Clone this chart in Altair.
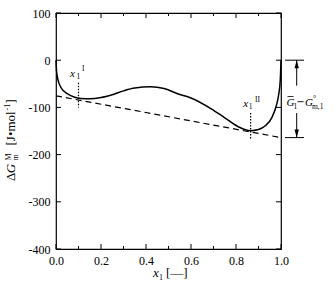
import altair as alt
import pandas as pd

FONT = "Liberation Serif"

# ---- data ----
curve_x = [0.0, 0.002, 0.006, 0.012, 0.025, 0.05, 0.08, 0.11, 0.15, 0.2, 0.25, 0.3, 0.35,
           0.42, 0.48, 0.54, 0.6, 0.69, 0.75, 0.81, 0.865, 0.9, 0.93, 0.96, 0.98, 0.99, 0.997, 1.0]
curve_y = [0, -20, -35, -47, -60, -71, -78, -81, -81.5, -79, -73, -65, -59,
           -56.5, -60, -71, -80, -103, -122, -141, -149.5, -147, -139, -121, -95, -72, -40, 0]

tangent_x = [0.0, 1.0]
tangent_y = [-75.5, -164.0]

x1_I = 0.1
x1_I_range = [-48, -100]
x1_II = 0.865
x1_II_range = [-112, -166]

x_major = [0.0, 0.2, 0.4, 0.6, 0.8, 1.0]
x_minor = [0.1, 0.3, 0.5, 0.7, 0.9]
y_major = [100, 0, -100, -200, -300, -400]

arrow_top = 0
arrow_bottom = -164
arrow_gap = [-54, -112]

xsc = alt.Scale(domain=[0, 1], nice=False, zero=False)
ysc = alt.Scale(domain=[-400, 100], nice=False, zero=False)

W, H = 225, 236
one = pd.DataFrame({"a": [0]})

xaxis = alt.Axis(values=x_major, format=".1f", title=None, domain=False, ticks=False,
                 grid=False, labelFont=FONT, labelFontSize=12, labelColor="black",
                 labelPadding=6, tickSize=0, labelFlush=False, labelOverlap=False)
yaxis = alt.Axis(values=y_major, labelExpr="'' + datum.value", title=None, domain=False,
                 ticks=False, grid=False, labelFont=FONT, labelFontSize=12,
                 labelColor="black", labelPadding=6, tickSize=0, labelFlush=False,
                 labelOverlap=False)


def X(f):
    return alt.X(f, scale=xsc, axis=xaxis)


def Y(f):
    return alt.Y(f, scale=ysc, axis=yaxis)


def txt(s, x, y, size=12, style="normal", angle=None, align="left"):
    kw = dict(text=s, font=FONT, fontSize=size, fontStyle=style, align=align,
              baseline="alphabetic", fill="black")
    if angle is not None:
        kw["angle"] = angle
    return alt.Chart(one).mark_text(**kw).encode(x=alt.value(x), y=alt.value(y))


def hrule(x1, x2, y, width=1.0):
    return alt.Chart(one).mark_rule(color="black", strokeWidth=width).encode(
        x=alt.value(x1), x2=alt.value(x2), y=alt.value(y))


curve_df = pd.DataFrame({"x": curve_x, "y": curve_y})
tan_df = pd.DataFrame({"x": tangent_x, "y": tangent_y})

curve = alt.Chart(curve_df).mark_line(interpolate="monotone", color="black",
                                      strokeWidth=1.5).encode(x=X("x:Q"), y=Y("y:Q"))

tangent = alt.Chart(tan_df).mark_line(color="black", strokeWidth=1.2,
                                      strokeDash=[6, 4]).encode(x=X("x:Q"), y=Y("y:Q"))

dot_df = pd.DataFrame({"x": [x1_I, x1_II], "y": [x1_I_range[0], x1_II_range[0]],
                       "y2": [x1_I_range[1], x1_II_range[1]]})
dots = alt.Chart(dot_df).mark_rule(color="black", strokeWidth=1.2,
                                   strokeDash=[1.5, 1.5]).encode(
    x=X("x:Q"), y=Y("y:Q"), y2="y2")

# inner ticks
ly = pd.DataFrame({"y": y_major})
left_ticks = alt.Chart(ly).mark_rule(color="black").encode(
    y=Y("y:Q"), x=alt.value(0), x2=alt.value(5))
right_ticks = alt.Chart(ly).mark_rule(color="black").encode(
    y=Y("y:Q"), x=alt.value(W), x2=alt.value(W - 5))
bxM = pd.DataFrame({"x": x_major})
bxm = pd.DataFrame({"x": x_minor})
bot_major = alt.Chart(bxM).mark_rule(color="black").encode(
    x=X("x:Q"), y=alt.value(H), y2=alt.value(H - 5))
bot_minor = alt.Chart(bxm).mark_rule(color="black").encode(
    x=X("x:Q"), y=alt.value(H), y2=alt.value(H - 3))
top_major = alt.Chart(bxM).mark_rule(color="black").encode(
    x=X("x:Q"), y=alt.value(0), y2=alt.value(5))
top_minor = alt.Chart(bxm).mark_rule(color="black").encode(
    x=X("x:Q"), y=alt.value(0), y2=alt.value(3))

# annotation to the right (bracket with arrows)
lev_df = pd.DataFrame({"y": [arrow_top, arrow_bottom]})
levels = alt.Chart(lev_df).mark_rule(color="black").encode(
    y=Y("y:Q"), x=alt.value(229), x2=alt.value(248))
seg_df = pd.DataFrame({"y": [arrow_top, arrow_gap[1]], "b": [arrow_gap[0], arrow_bottom]})
segs = alt.Chart(seg_df).mark_rule(color="black").encode(
    y=Y("y:Q"), y2="b", x=alt.value(240.7))
up_arrow = alt.Chart(pd.DataFrame({"y": [arrow_top]})).mark_point(
    shape="M0,-1L0.55,1L-0.55,1Z", filled=True, size=64, color="black", opacity=1,
    yOffset=4).encode(y=Y("y:Q"), x=alt.value(240.7))
down_arrow = alt.Chart(pd.DataFrame({"y": [arrow_bottom]})).mark_point(
    shape="M0,1L0.55,-1L-0.55,-1Z", filled=True, size=64, color="black", opacity=1,
    yOffset=-4).encode(y=Y("y:Q"), x=alt.value(240.7))

ann = [
    txt("G", 230.5, 92.7, 11, "italic"),
    hrule(231.5, 237.5, 83.5, 0.8),
    txt("1", 237.5, 95.5, 7.5),
    hrule(241.5, 247.5, 88.7, 0.9),
    txt("G", 249, 92.7, 11, "italic"),
    txt("°", 257, 87.5, 8),
    txt("m,1", 256, 95.5, 7.5),
]

labels = [
    txt("x", 14, 63.5, 11, "italic"),
    txt("1", 20.5, 66, 7.5),
    txt("I", 26, 57.7, 7.5),
    txt("x", 187.3, 93.7, 11, "italic"),
    txt("1", 192.8, 96, 7.5),
    txt("II", 199, 88.7, 7.5),
]

titles = [
    txt("x", 97, 264, 13, "italic"),
    txt("1", 103, 267, 8),
    txt("[—]", 110, 264, 13),
    txt("Δ", -41, 168, 13, angle=270),
    txt("G", -41, 160.3, 13, "italic", angle=270),
    txt("m", -38.5, 147.5, 8, angle=270),
    txt("M", -45.5, 147.5, 8, angle=270),
    txt("[J•mol", -41, 132.5, 13, angle=270),
    txt("-1", -46, 97.5, 8, angle=270),
    txt("]", -41, 90.5, 13, angle=270),
]

chart = alt.layer(
    curve, tangent, dots, left_ticks, right_ticks, bot_major, bot_minor, top_major,
    top_minor, levels, segs, up_arrow, down_arrow, *ann, *labels, *titles
).properties(
    width=W, height=H,
    autosize=alt.AutoSizeParams(type="none"),
    padding={"left": 56, "top": 13, "right": 55, "bottom": 35},
).configure_view(stroke="black", strokeWidth=1.2)

chart.save("out.html", embed_options={"renderer": "svg", "actions": False})
